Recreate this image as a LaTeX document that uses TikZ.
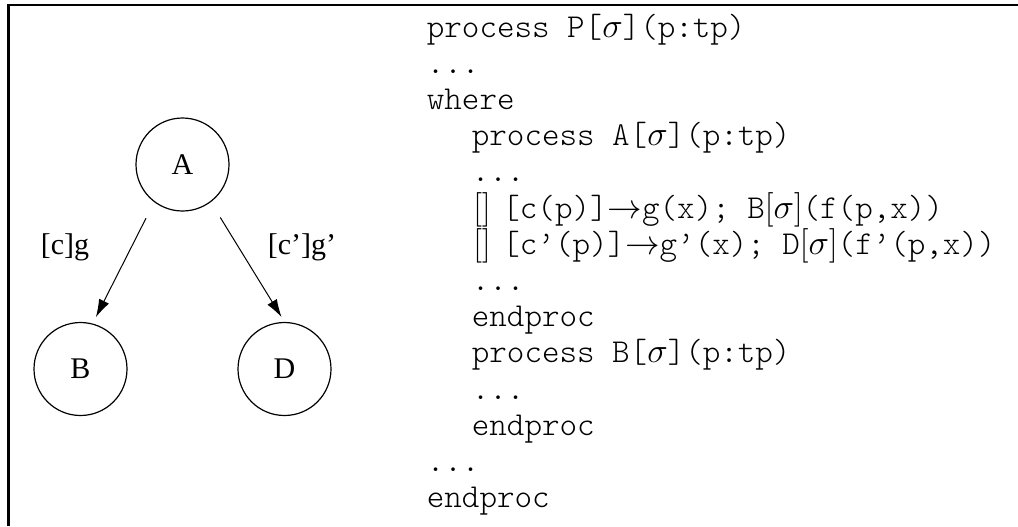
\documentclass[tikz,border=0pt]{standalone}
\usepackage{fontspec}
\setmainfont{Liberation Serif}
\setmonofont{lmmonolt10-regular.otf}
\usetikzlibrary{arrows.meta}

\tikzset{
  state/.style={circle, draw, line width=0.6pt, minimum size=46.5pt, inner sep=0pt, font=\fontsize{15}{18}\selectfont},
  trans/.style={-{Latex[length=9pt,width=5.5pt]}, line width=0.5pt},
  guard/.style={inner sep=0pt, font=\fontsize{15}{18}\selectfont},
  codeline/.style={anchor=base west, inner sep=0pt, font=\ttfamily\fontsize{16.7}{18}\selectfont}
}
\newcommand{\choice}{\makebox[14.5pt][l]{$[\mkern0mu]$}}

\begin{document}
\begin{tikzpicture}[x=0.5pt, y=-0.5pt]
  \useasboundingbox (0,0) rectangle (1018,526);

  % Frame
  \draw[line width=1.3pt] (8.5,526) -- (8.5,5) -- (1018,5);

  % States
  \node[state] (A) at (182.5,164.5) {A};
  \node[state] (B) at (80.5,369) {B};
  \node[state] (D) at (284.5,369) {D};

  % Transitions
  \draw[trans, shorten <=9pt, shorten >=3.5pt] (A.233) -- (B.75);
  \draw[trans, shorten <=9pt, shorten >=2.75pt] (A.-53) -- (D.90);
  \node[guard] (gB) at (65,247) {[c]g};
  \node[guard] (gD) at (302,247) {[c’]g’};

  % Process text
  \node[codeline] (l1)  at (426.5,37)    {process P[$\sigma$](p:tp)};
  \node[codeline] (l2)  at (426.5,73.2)  {...};
  \node[codeline] (l3)  at (426.5,109.4) {where};
  \node[codeline] (l4)  at (471.5,145.6) {process A[$\sigma$](p:tp)};
  \node[codeline] (l5)  at (471.5,181.8) {...};
  \node[codeline] (l6)  at (473,218)     {\choice[c(p)]$\rightarrow$g(x); B$[\sigma]$(f(p,x))};
  \node[codeline] (l7)  at (473,254.2)   {\choice[c’(p)]$\rightarrow$g’(x); D$[\sigma]$(f’(p,x))};
  \node[codeline] (l8)  at (471.5,290.4) {...};
  \node[codeline] (l9)  at (471.5,326.6) {endproc};
  \node[codeline] (l10) at (471.5,362.8) {process B[$\sigma$](p:tp)};
  \node[codeline] (l11) at (471.5,399)   {...};
  \node[codeline] (l12) at (471.5,435.2) {endproc};
  \node[codeline] (l13) at (426.5,471.4) {...};
  \node[codeline] (l14) at (426.5,507.6) {endproc};
\end{tikzpicture}
\end{document}
